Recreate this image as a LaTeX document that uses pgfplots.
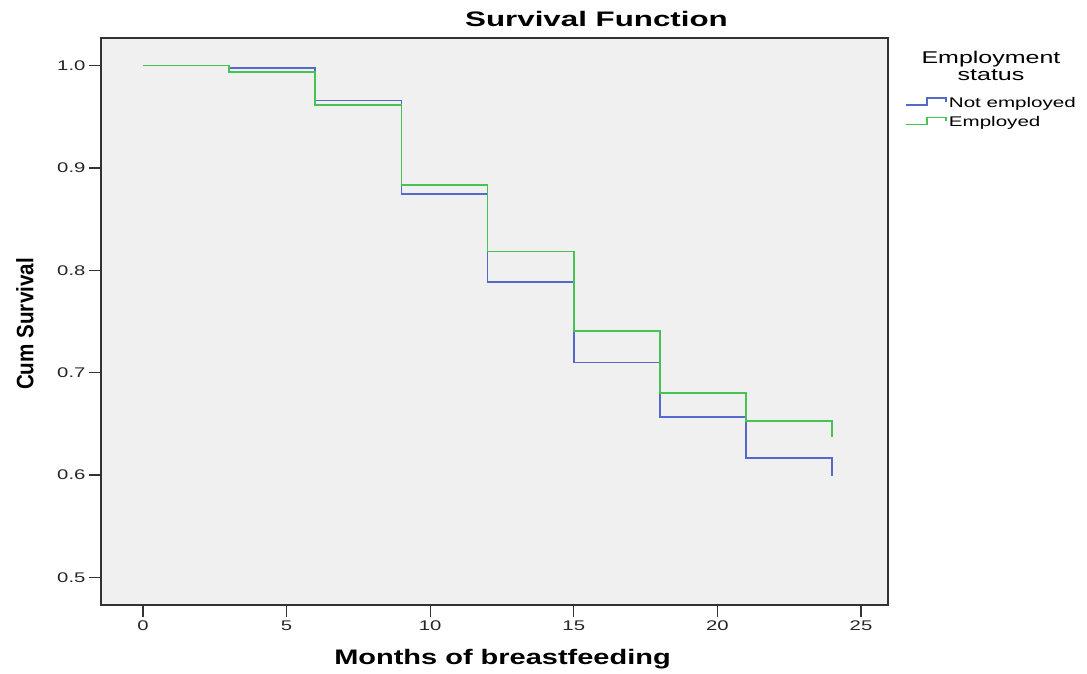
\documentclass[border=0pt]{standalone}
\usepackage{fontspec}
\setmainfont{Liberation Sans}
\newfontfamily\tickfont[FakeStretch=1.45]{Liberation Sans}
\newfontfamily\titlefont[FakeStretch=1.49]{Liberation Sans}
\newfontfamily\xlabfont[FakeStretch=1.38]{Liberation Sans}
\newfontfamily\ylabfont[FakeStretch=0.87]{Liberation Sans}
\newfontfamily\legfont[FakeStretch=1.47]{Liberation Sans}
\usepackage{pgfplots}
\pgfplotsset{compat=1.18}

\definecolor{kmblue}{RGB}{85,105,205}
\definecolor{kmgreen}{RGB}{70,195,85}
\definecolor{plotbg}{RGB}{240,240,240}
\definecolor{framecol}{RGB}{50,50,50}

\begin{document}
\begin{tikzpicture}
\useasboundingbox (-101pt,-68pt) rectangle (986pt,605pt);
\begin{axis}[
  at={(0pt,0pt)}, anchor=south west,
  scale only axis, width=787pt, height=567pt,
  xmin=-1.46, xmax=25.94, ymin=0.473, ymax=1.027,
  clip=false,
  axis background/.style={fill=plotbg},
  axis line style={framecol, line width=1.2pt},
  tick pos=left,
  tick align=outside,
  major tick length=12pt,
  tick style={framecol, line width=1.2pt},
  xtick={0,5,10,15,20,25},
  ytick={0.5,0.6,0.7,0.8,0.9,1.0},
  yticklabel style={/pgf/number format/.cd, fixed, fixed zerofill, precision=1},
  /pgf/number format/assume math mode=true,
  tick label style={font=\tickfont\fontsize{14}{14}\selectfont, text=black!85},
  legend style={draw=none, fill=none, at={(rel axis cs:1.0216,0.900)}, anchor=north west,
    font=\legfont\fontsize{14}{16}\selectfont, inner sep=0pt, row sep=4pt,
    nodes={inner sep=2pt, text=black}},
  legend cell align=left,
  legend image code/.code={\draw[#1] (0pt,-2pt) -- (21pt,-2pt) -- (21pt,5pt) -- (40pt,5pt) -- (40pt,1pt);},
]
% Kaplan-Meier estimates, survival held until each event time
\addplot[kmblue, line width=1.7pt, const plot, mark=none] coordinates {
  (0,1.0) (3,0.998) (6,0.966) (9,0.8748) (12,0.7883) (15,0.710) (18,0.657) (21,0.6164) (24,0.5995)
};
\addlegendentry{Not employed}
\addplot[kmgreen, line width=1.7pt, const plot, mark=none] coordinates {
  (0,1.0) (3,0.9935) (6,0.9615) (9,0.8836) (12,0.8183) (15,0.7404) (18,0.680) (21,0.653) (24,0.6367)
};
\addlegendentry{Employed}
\end{axis}
\node[font=\titlefont\bfseries\fontsize{21}{21}\selectfont] at (495.5pt,586pt) {Survival Function};
\node[font=\xlabfont\bfseries\fontsize{21}{21}\selectfont] at (401.5pt,-54pt) {Months of breastfeeding};
\node[rotate=90, font=\ylabfont\bfseries\fontsize{23.7}{24}\selectfont] at (-76pt,281pt) {Cum Survival};
\node[align=center, font=\legfont\fontsize{17}{17}\selectfont] at (890pt,539.5pt) {Employment\\status};
\end{tikzpicture}
\end{document}
